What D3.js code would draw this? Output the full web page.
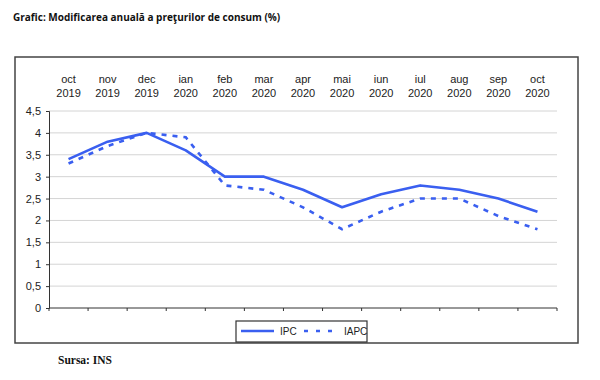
<!DOCTYPE html>
<html>
<head>
<meta charset="utf-8">
<script src="https://cdn.jsdelivr.net/npm/d3@7"></script>
<style>
    body { margin: 0; background: white; }
    text { font-family: "Liberation Sans", Arial, sans-serif; }
</style>
</head>
<body>
<svg id="chart" width="600" height="380"></svg>
<script>
    // data
    var months = ["oct", "nov", "dec", "ian", "feb", "mar", "apr", "mai", "iun", "iul", "aug", "sep", "oct"]
    var years = ["2019", "2019", "2019", "2020", "2020", "2020", "2020", "2020", "2020", "2020", "2020", "2020", "2020"]
    var ipc = [3.4, 3.8, 4.0, 3.6, 3.0, 3.0, 2.7, 2.3, 2.6, 2.8, 2.7, 2.5, 2.2]
    var iapc = [3.3, 3.7, 4.0, 3.9, 2.8, 2.7, 2.3, 1.8, 2.2, 2.5, 2.5, 2.1, 1.8]
    var yTicks = [0, 0.5, 1, 1.5, 2, 2.5, 3, 3.5, 4, 4.5]

    var blue = "#3a5ff0"
    var svg = d3.select("#chart")

    svg.append("text")
        .attr("x", 13).attr("y", 21)
        .style("font", "bold 10px 'Open Sans', sans-serif")
        .attr("fill", "#111")
        .text("Grafic: Modificarea anuală a preţurilor de consum (%)")

    // outer frame
    svg.append("rect")
        .attr("x", 15).attr("y", 57)
        .attr("width", 563).attr("height", 286)
        .attr("fill", "none").attr("stroke", "#444").attr("stroke-width", 1.5)

    var idx = d3.range(months.length)
    var x = d3.scaleBand().domain(idx).range([49, 557])
    var y = d3.scaleLinear().domain([0, 4.5]).range([308, 111])
    var cx = i => x(i) + x.bandwidth() / 2

    // grid
    svg.append("g").selectAll("line")
        .data(yTicks.slice(1))
        .enter().append("line")
        .attr("x1", 49).attr("x2", 557)
        .attr("y1", d => y(d)).attr("y2", d => y(d))
        .attr("stroke", "#d4d4d4").attr("stroke-width", 1)

    // y axis
    var yAxis = svg.append("g")
        .attr("transform", "translate(49,0)")
        .call(d3.axisLeft(y).tickValues(yTicks).tickSize(3).tickPadding(5)
            .tickFormat(d => String(d).replace(".", ",")))
    yAxis.select(".domain").attr("stroke", "#333")
    yAxis.selectAll(".tick line").attr("stroke", "#333")
    yAxis.selectAll("text").attr("fill", "#222").style("font-size", "11px")

    // x axis: ticks at band edges
    var xg = svg.append("g").attr("transform", "translate(0,308)")
    xg.append("line").attr("x1", 49).attr("x2", 557).attr("stroke", "#333")
    xg.selectAll(".tk")
        .data(d3.range(months.length + 1))
        .enter().append("line")
        .attr("x1", d => 49 + d * x.step()).attr("x2", d => 49 + d * x.step())
        .attr("y1", 0).attr("y2", 3)
        .attr("stroke", "#333")

    // month labels on top
    var lab = svg.append("g").selectAll("text")
        .data(idx)
        .enter().append("text")
        .attr("text-anchor", "middle")
        .attr("fill", "#222")
        .style("font-size", "11px")
    lab.append("tspan").attr("x", cx).attr("y", 83).text(i => months[i])
    lab.append("tspan").attr("x", cx).attr("y", 97).text(i => years[i])

    var line = d3.line().x((d, i) => cx(i)).y(d => y(d))

    svg.append("path")
        .attr("d", line(iapc))
        .attr("fill", "none").attr("stroke", blue).attr("stroke-width", 2.6)
        .attr("stroke-dasharray", "5,6")

    svg.append("path")
        .attr("d", line(ipc))
        .attr("fill", "none").attr("stroke", blue).attr("stroke-width", 2.6)
        .attr("stroke-linejoin", "round")

    // legend
    var lg = svg.append("g")
    lg.append("rect")
        .attr("x", 236).attr("y", 321).attr("width", 131).attr("height", 21)
        .attr("fill", "white").attr("stroke", "#333").attr("stroke-width", 1.2)
    lg.append("line").attr("x1", 241).attr("x2", 274).attr("y1", 331).attr("y2", 331)
        .attr("stroke", blue).attr("stroke-width", 2.6)
    lg.append("text").attr("x", 280).attr("y", 335).style("font-size", "10px").attr("fill", "#222").text("IPC")
    lg.append("line").attr("x1", 304).attr("x2", 338).attr("y1", 331).attr("y2", 331)
        .attr("stroke", blue).attr("stroke-width", 2.6).attr("stroke-dasharray", "4,8")
    lg.append("text").attr("x", 344).attr("y", 335).style("font-size", "10px").attr("fill", "#222").text("IAPC")

    svg.append("text")
        .attr("x", 58).attr("y", 364)
        .style("font", "bold 11.5px 'Liberation Serif', 'Times New Roman', serif")
        .attr("fill", "#111")
        .text("Sursa: INS")
</script>
</body>
</html>
